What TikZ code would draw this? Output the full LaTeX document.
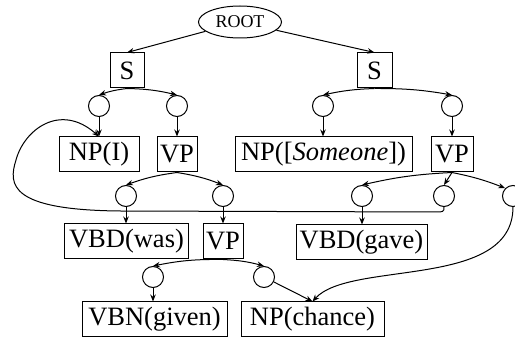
\documentclass[tikz,border=0pt]{standalone}
\usepackage{fontspec}
\setmainfont{Liberation Serif}
\usetikzlibrary{arrows.meta,shapes.geometric}
\begin{document}
\begin{tikzpicture}[x=1pt,y=-1pt,
  box/.style={draw,line width=1pt,minimum height=35pt,inner xsep=1pt,inner ysep=0pt,font=\fontsize{26.5}{28}\selectfont},
  circ/.style={draw,circle,line width=1pt,minimum size=21pt,inner sep=0pt},
  arr/.style={line width=1pt,-{Stealth[length=7pt,width=5.5pt]}},
]
\useasboundingbox (0,0) rectangle (515,339);
\node[draw,ellipse,line width=1pt,minimum width=83pt,minimum height=32pt,inner sep=0pt,font=\fontsize{18}{20}\selectfont] (root) at (240,22) {ROOT};
% row 1
\node[box,minimum width=34pt] (s1) at (127,70.5) {S};
\node[box,minimum width=35pt] (s2) at (374.5,70.5) {S};
\node[circ] (c1) at (99,106) {};
\node[circ] (c2) at (177,106) {};
\node[circ] (c3) at (323,106) {};
\node[circ] (c4) at (452,106) {};
% row 2
\node[box,minimum width=80pt] (npi) at (99,154.5) {NP(I)};
\node[box,minimum width=40pt] (vp1) at (177,154.5) {VP};
\node[box,minimum width=177pt] (nps) at (323.5,154.5) {NP([\textit{Someone}])};
\node[box,minimum width=42pt] (vp2) at (452,154.5) {VP};
\node[circ] (d1) at (126,196) {};
\node[circ] (d2) at (223,196) {};
\node[circ] (d3) at (362,196) {};
\node[circ] (d4) at (444,196) {};
\node[circ] (d5) at (513,196) {};
% row 3
\node[box,minimum width=124pt] (vbdw) at (126.5,241.5) {VBD(was)};
\node[box,minimum width=40pt] (vp3) at (223,241.5) {VP};
\node[box,minimum width=131pt] (vbdg) at (361.5,242.5) {VBD(gave)};
\node[circ] (e1) at (153,277) {};
\node[circ] (e2) at (264,277) {};
% row 4
\node[box,minimum width=145pt] (vbn) at (154.5,319.5) {VBN(given)};
\node[box,minimum width=143pt] (npc) at (312.5,319.5) {NP(chance)};
% edges
\draw[arr] (root) -- (s1.north);
\draw[arr] (root) -- (s2.north);
\draw[arr] (s1.south) to[bend right=6] (c1.north);
\draw[arr] (s1.south) to[bend left=6] (c2.north);
\draw[arr] (s2.south) to[bend right=5] (c3.north);
\draw[arr] (s2.south) to[bend left=5] (c4.north);
\draw[arr] (c1.south) -- (c1.south |- npi.north);
\draw[arr] (c2.south) -- (c2.south |- vp1.north);
\draw[arr] (c3.south) -- (c3.south |- nps.north);
\draw[arr] (c4.south) -- (c4.south |- vp2.north);
\draw[arr] (vp1.south) to[bend right=6] (d1.north);
\draw[arr] (vp1.south) to[bend left=6] (d2.north);
\draw[arr] (vp2.south) to[bend right=5] (d3.north);
\draw[arr] (vp2.south) -- (d4.north);
\draw[arr] (vp2.south) to[bend left=5] (d5.north west);
\draw[arr] (d1.south) -- (d1.south |- vbdw.north);
\draw[arr] (d2.south) -- (d2.south |- vp3.north);
\draw[arr] (d3.south) -- (d3.south |- vbdg.north);
\draw[arr] (vp3.south) to[bend right=6] (e1.north);
\draw[arr] (vp3.south) to[bend left=6] (e2.north);
\draw[arr] (e1.south) -- (e1.south |- vbn.north);
\draw[arr] (e2) -- (npc.north);
\draw[arr] (d5.south) .. controls (513,290) and (350,260) .. (npc.north);
\draw[arr] (d4.south) .. controls (444,212) .. (432,212) -- (120,211)
  .. controls (10,210) and (8,185) .. (16,160)
  .. controls (24,130) and (60,102) .. (npi.north);
\end{tikzpicture}
\end{document}
